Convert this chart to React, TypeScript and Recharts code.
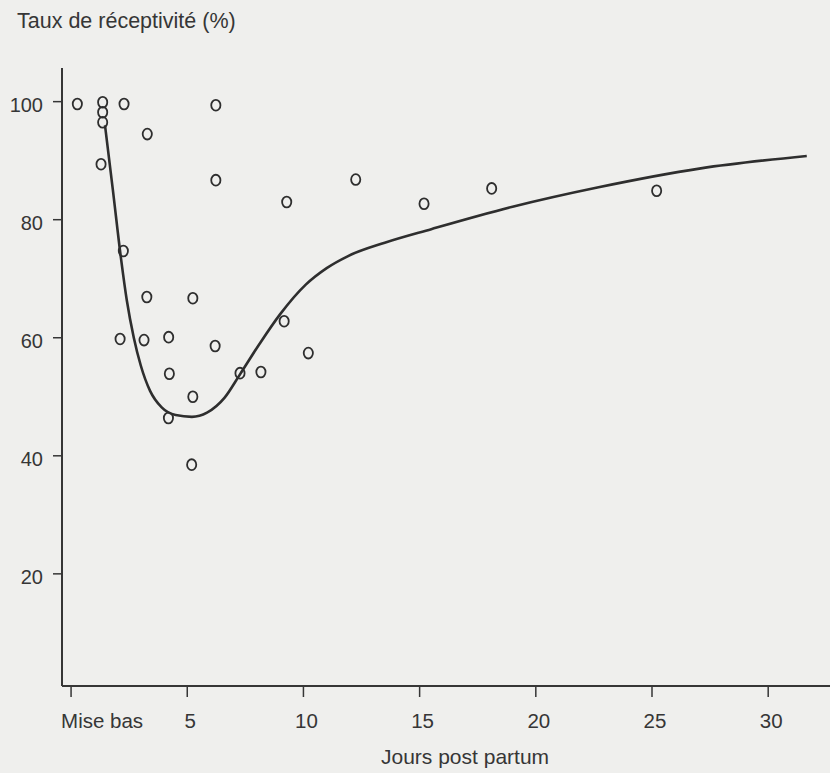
import { ComposedChart, Line, Scatter, XAxis, YAxis } from "recharts";

// observed points (days post partum, receptivity %)
const obsDays = [
  0.27, 1.36, 1.36, 1.36, 1.29, 2.28, 2.25, 2.11, 3.28, 3.26, 3.14, 4.2, 4.23,
  4.19, 5.24, 5.24, 5.19, 6.23, 6.23, 6.2, 7.27, 8.17, 9.28, 9.17, 10.21,
  12.25, 15.19, 18.1, 25.2,
];
const obsRates = [
  99.6, 99.9, 98.2, 96.5, 89.4, 99.6, 74.7, 59.8, 94.5, 66.9, 59.6, 60.1, 53.9,
  46.4, 66.7, 50.0, 38.5, 99.4, 86.7, 58.6, 54.0, 54.2, 83.0, 62.8, 57.4, 86.8,
  82.7, 85.3, 84.9,
];

// fitted curve
const curveDays = [
  1.46, 1.8, 2.15, 2.4, 2.7, 3.0, 3.4, 3.9, 4.5, 5.2, 5.85, 6.6, 7.27, 8.1,
  9.0, 10.1, 11.0, 11.9, 13.5, 15.5, 19.0, 22.7, 27.1, 31.66,
];
const curveRates = [
  96, 85, 73.4, 66.3, 60, 55.3, 51, 48.2, 46.9, 46.6, 47.3, 49.8, 53.8, 58.9,
  64, 69, 71.8, 73.8, 76.1, 78.4, 82.2, 85.5, 88.7, 90.8,
];

const xTicks = [0, 5, 10, 15, 20, 25, 30];
const yTicks = [20, 40, 60, 80, 100];

const observed = obsDays.map((d, i) => ({ x: d, y: obsRates[i] }));
const curve = curveDays.map((d, i) => ({ x: d, y: curveRates[i] }));

const INK = "#363636";
const FONT = "'Liberation Sans', Arial, Helvetica, sans-serif";

function XTick({ x, y, payload }: any) {
  const first = payload.value === 0;
  return (
    <text
      x={first ? x - 10 : x + 3}
      y={y + 31}
      textAnchor={first ? "start" : "middle"}
      fill={INK}
      fontSize={20.5}
      fontFamily={FONT}
    >
      {first ? "Mise bas" : payload.value}
    </text>
  );
}

function YTick({ x, y, payload }: any) {
  return (
    <text
      x={x - 10}
      y={y + 10}
      textAnchor="end"
      fill={INK}
      fontSize={20}
      fontFamily={FONT}
    >
      {payload.value}
    </text>
  );
}

function Ring({ cx, cy }: any) {
  return (
    <ellipse
      cx={cx}
      cy={cy}
      rx={4.6}
      ry={5.4}
      fill="none"
      stroke="#2e2e2e"
      strokeWidth={1.8}
    />
  );
}

export default function App() {
  return (
    <div
      style={{
        position: "absolute",
        left: 0,
        top: 0,
        width: 830,
        height: 773,
        background: "#efefed",
        fontFamily: FONT,
        color: INK,
      }}
    >
      <div
        style={{
          position: "absolute",
          left: 17,
          top: 11,
          fontSize: 21.5,
          lineHeight: "21px",
          whiteSpace: "nowrap",
        }}
      >
        Taux de réceptivité (%)
      </div>
      <ComposedChart
        width={830}
        height={773}
        margin={{ top: 68, right: 0, left: 0, bottom: 0 }}
      >
        <XAxis
          type="number"
          dataKey="x"
          domain={[-0.39, 32.66]}
          allowDataOverflow
          ticks={xTicks}
          tick={<XTick />}
          tickSize={11}
          tickMargin={0}
          height={87}
          axisLine={{ stroke: INK, strokeWidth: 2 }}
          tickLine={{ stroke: INK, strokeWidth: 1.5 }}
        />
        <YAxis
          type="number"
          dataKey="y"
          domain={[1, 105.7]}
          allowDataOverflow
          ticks={yTicks}
          tick={<YTick />}
          tickSize={9}
          tickMargin={0}
          width={62}
          axisLine={{ stroke: INK, strokeWidth: 2 }}
          tickLine={{ stroke: INK, strokeWidth: 1.5 }}
        />
        <Line
          data={curve}
          dataKey="y"
          type="monotone"
          stroke="#2e2e2e"
          strokeWidth={2.6}
          dot={false}
          activeDot={false}
          isAnimationActive={false}
        />
        <Scatter
          data={observed}
          dataKey="y"
          shape={<Ring />}
          isAnimationActive={false}
        />
      </ComposedChart>
      <div
        style={{
          position: "absolute",
          left: 381,
          top: 746,
          fontSize: 21,
          lineHeight: "21px",
          whiteSpace: "nowrap",
        }}
      >
        Jours post partum
      </div>
    </div>
  );
}
